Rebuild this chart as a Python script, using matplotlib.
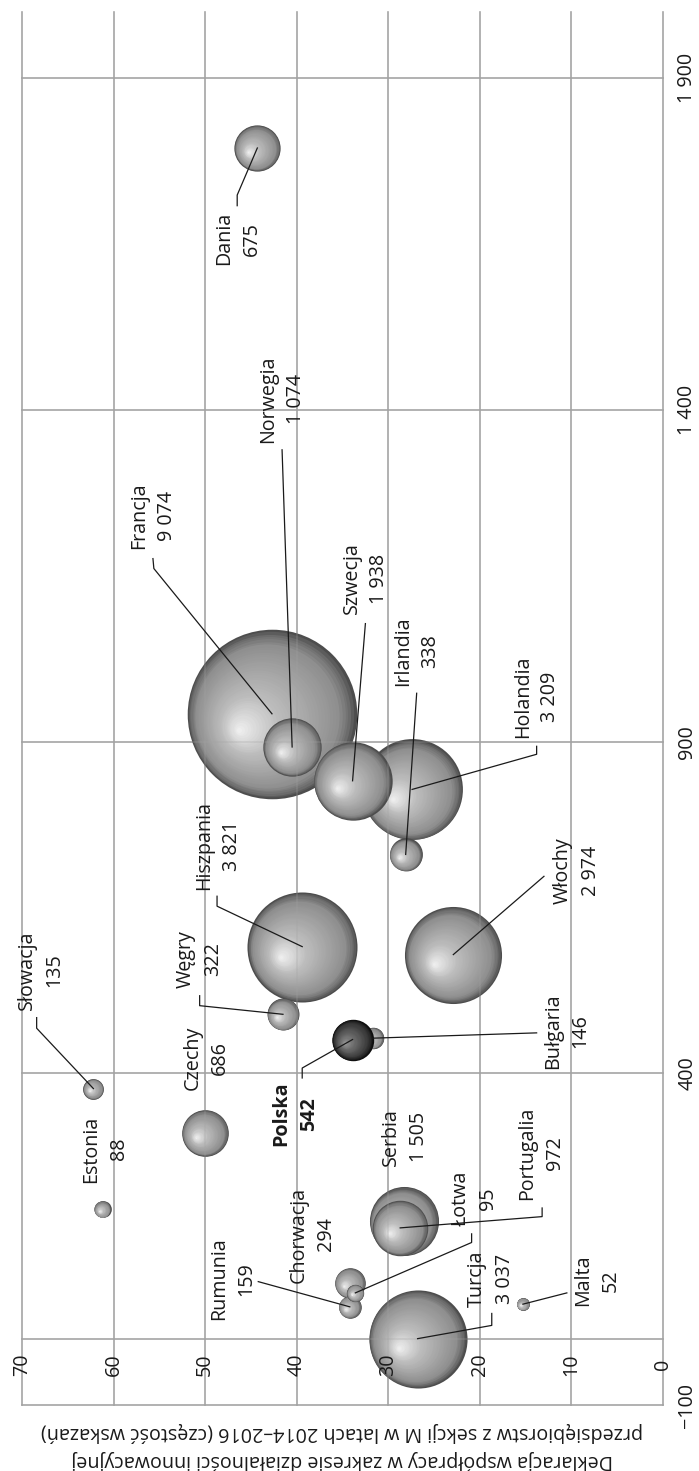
import matplotlib
matplotlib.use('Agg')
import matplotlib.pyplot as plt
from matplotlib.transforms import ScaledTranslation, blended_transform_factory
import numpy as np

plt.rcParams['font.family'] = ['Open Sans', 'DejaVu Sans']

# data: x = first axis (-100..2000), y = second axis (0..70), counts = bubble size
countries = ['Dania', 'Norwegia', 'Francja', 'Szwecja', 'Holandia', 'Irlandia',
             'Hiszpania', 'Włochy', 'Węgry', 'Polska', 'Bułgaria', 'Słowacja',
             'Czechy', 'Estonia', 'Serbia', 'Portugalia', 'Chorwacja', 'Łotwa',
             'Rumunia', 'Turcja', 'Malta']
x_vals = [1795, 892, 942, 841, 828, 730, 591, 579, 489, 451, 453, 377,
          310, 195, 177, 167, 84, 69, 48, 0, 52]
y_vals = [44.3, 40.5, 42.7, 33.9, 27.4, 28.1, 39.4, 22.9, 41.5, 33.9, 31.7, 62.2,
          50.0, 61.2, 28.3, 28.7, 34.2, 33.6, 34.2, 26.8, 15.3]
counts = [675, 1074, 9074, 1938, 3209, 338, 3821, 2974, 322, 542, 146, 135,
          686, 88, 1505, 972, 294, 95, 159, 3037, 52]

x_ticks = [-100, 400, 900, 1400, 1900]
x_ticklabels = ['\u2212100', '400', '900', '1 400', '1 900']
y_ticks = [0, 10, 20, 30, 40, 50, 60, 70]
axis_title = ('Deklaracja współpracy w zakresie działalności innowacyjnej\n'
              'przedsiębiorstw z sekcji M w latach 2014\u20132016 (częstość wskazań)')

# label placement (y, x) and leader waypoints
label_pos = {
    'Dania': (46.4, 1658), 'Norwegia': (41.6, 1416), 'Francja': (55.7, 1240),
    'Szwecja': (32.5, 1146), 'Holandia': (13.8, 968), 'Irlandia': (26.9, 1036),
    'Hiszpania': (48.6, 743), 'Włochy': (9.4, 705), 'Węgry': (50.6, 572),
    'Polska': (40.2, 339), 'Bułgaria': (10.5, 464), 'Słowacja': (68.0, 556),
    'Czechy': (49.9, 423), 'Estonia': (60.9, 286), 'Serbia': (28.2, 304),
    'Portugalia': (13.3, 280), 'Chorwacja': (38.3, 157), 'Łotwa': (20.6, 211),
    'Rumunia': (47.0, 90), 'Turcja': (18.8, 90), 'Malta': (7.2, 88),
}
leaders = {
    'Dania': [(46.5, 1724), (46.5, 1708)],
    'Norwegia': [(41.6, 1340)],
    'Francja': [(55.6, 1161), (55.7, 1176)],
    'Szwecja': [(32.5, 1078)],
    'Holandia': [(13.8, 881), (13.8, 893)],
    'Irlandia': [(26.9, 973)],
    'Hiszpania': [(48.7, 652), (48.7, 667)],
    'Włochy': [(13.0, 697)],
    'Węgry': [(50.6, 502), (50.6, 517)],
    'Polska': [(39.4, 408), (39.4, 393)],
    'Bułgaria': [(13.8, 461)],
    'Słowacja': [(68.4, 468), (68.4, 484)],
    'Portugalia': [(13.2, 184), (13.2, 197)],
    'Łotwa': [(20.9, 145), (20.9, 158)],
    'Rumunia': [(44.2, 86)],
    'Turcja': [(18.7, 20), (18.7, 38)],
    'Malta': [(10.5, 69)],
}

fs = 14.2
txt_c = '#1a1a1a'
grid_c = '#a3a3a3'

fig = plt.figure(figsize=(6.99, 14.71), dpi=100)
ax = fig.add_axes([22 / 699, 66 / 1471, 641 / 699, 1393 / 1471])
ax.set_xlim(70, 0)
ax.set_ylim(-100, 2000)
ax.axis('off')


def draw_grid(z, alpha):
    for v in y_ticks:
        ax.axvline(v, color=grid_c, lw=1.1, zorder=z, alpha=alpha, clip_on=False)
    for u in [-100, 0, 400, 900, 1400, 1900]:
        ax.axhline(u, color=grid_c, lw=1.1, zorder=z, alpha=alpha, clip_on=False)


draw_grid(1, 1.0)

# sphere shading: focal radial gradient made of stacked discs
s_stops = [0.0, 0.15, 0.35, 0.6, 0.85, 0.95, 1.0]
g_light = [0.95, 0.86, 0.74, 0.65, 0.56, 0.42, 0.30]
g_dark = [0.62, 0.52, 0.42, 0.32, 0.2, 0.1, 0.05]

order = sorted(range(len(countries)), key=lambda i: -counts[i])
order.remove(countries.index('Polska'))
order.append(countries.index('Polska'))

for zi, i in enumerate(order):
    r_pt = 0.89 * np.sqrt(counts[i]) * 0.72
    g_stops = g_dark if countries[i] == 'Polska' else g_light
    for k, s in enumerate(np.linspace(1, 0.03, 40)):
        g = np.interp(s, s_stops, g_stops)
        dx = (1 - s) * -0.40 * r_pt
        dy = (1 - s) * -0.20 * r_pt
        tr = ax.transData + ScaledTranslation(dx / 72, dy / 72, fig.dpi_scale_trans)
        ax.scatter([y_vals[i]], [x_vals[i]], s=(2 * s * r_pt) ** 2, color=(g, g, g),
                   linewidths=0, transform=tr, zorder=2 + zi + k / 100)

# grid faintly visible through bubbles
draw_grid(50, 0.3)

for i, name in enumerate(countries):
    if name in leaders:
        pts = [(y_vals[i], x_vals[i])] + leaders[name]
        ax.plot([p[0] for p in pts], [p[1] for p in pts], color='#1a1a1a', lw=0.9,
                zorder=60, clip_on=False)
    num = f'{counts[i]:,}'.replace(',', ' ')
    lx, ly = label_pos[name]
    ax.text(lx, ly, f'{name}\n{num}', rotation=90, ha='center', va='center',
            multialignment='center', fontsize=fs, color=txt_c, linespacing=1.5,
            fontweight='bold' if name == 'Polska' else 'normal', zorder=70)

for v in y_ticks:
    ax.text(v, -39, str(v), rotation=90, ha='center', va='center', fontsize=fs,
            color=txt_c, zorder=70)

trans = blended_transform_factory(ax.transAxes, ax.transData)
for u, lab in zip(x_ticks, x_ticklabels):
    ax.text(1.038, u, lab, rotation=90, ha='center', va='center', fontsize=fs,
            color=txt_c, transform=trans, clip_on=False)

fig.text(342 / 699, 1 - 1446 / 1471, axis_title, rotation=180, ha='center', va='center',
         multialignment='center', fontsize=fs, color=txt_c, linespacing=1.5)

fig.savefig('out.png', dpi=100, facecolor='white')
